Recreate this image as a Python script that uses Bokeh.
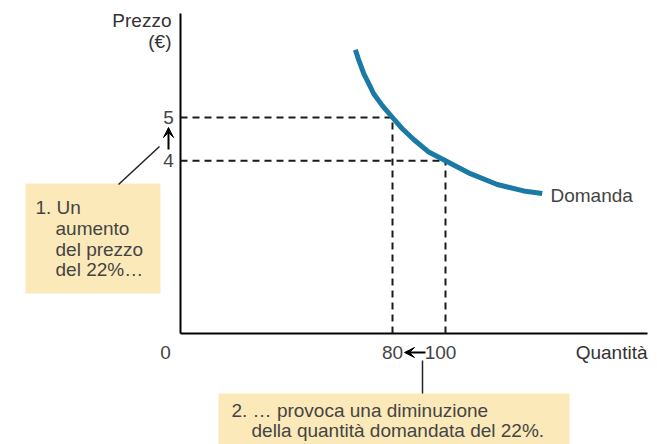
from bokeh.plotting import figure
from bokeh.models import Range1d, Arrow, VeeHead
from bokeh.core.properties import value
from bokeh.embed import file_html
from bokeh.resources import INLINE

# ---- data ----
price_vals = [5, 4]          # prices (€)
qty_vals = [80, 100]         # quantities demanded
demand_q = [66.0, 67.3, 69.2, 71.1, 72.9, 76.1, 80.0, 83.7, 88.0, 93.7,
            100.0, 109.4, 119.5, 129.5, 136.5]
demand_p = [6.57, 6.32, 6.01, 5.78, 5.55, 5.28, 5.00, 4.74, 4.49, 4.20,
            4.00, 3.70, 3.45, 3.30, 3.24]
x_axis_label = "Quantità"
y_axis_label = ["Prezzo", "(€)"]
curve_label = "Domanda"
note1 = ["1. Un", "aumento", "del prezzo", "del 22%…"]
note2 = ["2. … provoca una diminuzione", "della quantità domandata del 22%."]

# ---- layout helpers (screen px -> data) ----
W, H = 657, 444
OX, OY = 180, 333          # pixel position of origin
SX, SY = 2.65, 43.2        # px per data unit


def X(sx):
    return (sx - OX) / SX


def Y(sy):
    return (OY - sy) / SY


p = figure(width=W, height=H, output_backend="svg", toolbar_location=None,
           x_range=Range1d(X(0), X(W)), y_range=Range1d(Y(H), Y(0)),
           min_border=0, outline_line_color=None)
p.axis.visible = False
p.grid.visible = False
p.background_fill_color = "white"

FONT = value("Liberation Sans")
TXT = "#444444"
FS = "19px"

# axes lines
p.segment(x0=[0, 0], y0=[0, 0], x1=[0, X(647)], y1=[Y(13), 0],
          line_color="black", line_width=2)

# dashed guides
p.segment(x0=[0] * len(qty_vals), y0=price_vals, x1=qty_vals, y1=price_vals,
          line_color="#1a1a1a", line_width=2, line_dash="7 5")
p.segment(x0=qty_vals, y0=[0] * len(qty_vals), x1=qty_vals, y1=price_vals,
          line_color="#1a1a1a", line_width=2, line_dash="7 5")

# demand curve
p.line(demand_q, demand_p, line_color="#1a7aa5", line_width=5,
       line_join="round")
p.text(x=[X(550)], y=[Y(195)], text=[curve_label], text_font=FONT,
       text_font_size=FS, text_color=TXT, text_baseline="middle",
       text_align="left")

# y tick labels
p.text(x=[X(168)] * len(price_vals), y=price_vals, text=[str(v) for v in price_vals],
       text_font=FONT, text_font_size=FS, text_color=TXT,
       text_baseline="middle", text_align="center")
# y axis title
p.text(x=[X(171), X(171)], y=[Y(20), Y(41)], text=y_axis_label, text_font=FONT,
       text_font_size=FS, text_color="#333333", text_baseline="middle",
       text_align="right")
# origin
p.text(x=[X(165)], y=[Y(352)], text=["0"], text_font=FONT, text_font_size=FS,
       text_color=TXT, text_baseline="middle", text_align="center")
# x tick labels
p.text(x=[qty_vals[0]], y=[Y(352)], text=[str(qty_vals[0])], text_font=FONT,
       text_font_size=FS, text_color=TXT, text_baseline="middle",
       text_align="center")
p.text(x=[X(440)], y=[Y(352)], text=[str(qty_vals[1])], text_font=FONT,
       text_font_size=FS, text_color=TXT, text_baseline="middle",
       text_align="center")
p.text(x=[X(647)], y=[Y(352)], text=[x_axis_label], text_font=FONT,
       text_font_size=FS, text_color="#333333", text_baseline="middle",
       text_align="right")

# arrows
p.add_layout(Arrow(end=VeeHead(size=10, fill_color="black", line_color="black"),
                   x_start=X(168), y_start=Y(149), x_end=X(168), y_end=Y(127),
                   line_color="black", line_width=2))
p.add_layout(Arrow(end=VeeHead(size=10, fill_color="black", line_color="black"),
                   x_start=X(425), y_start=Y(352), x_end=X(404), y_end=Y(352),
                   line_color="black", line_width=2))

# note boxes
BOX = "#fce9b9"
p.quad(left=[X(25), X(218)], right=[X(160), X(569)],
       top=[Y(183), Y(393)], bottom=[Y(293), Y(450)],
       fill_color=BOX, line_color=None)
# pointer lines
p.segment(x0=[X(118), X(422)], y0=[Y(184), Y(360)],
          x1=[X(159), X(422)], y1=[Y(146), Y(393)],
          line_color="#222222", line_width=1.5)

# note 1 text
p.text(x=[X(35)], y=[Y(207)], text=[note1[0]], text_font=FONT,
       text_font_size=FS, text_color=TXT, text_baseline="middle",
       text_align="left")
p.text(x=[X(55)] * 3, y=[Y(228), Y(248.5), Y(269)], text=note1[1:],
       text_font=FONT, text_font_size=FS, text_color=TXT,
       text_baseline="middle", text_align="left")
# note 2 text
p.text(x=[X(231), X(251)], y=[Y(410), Y(430)], text=note2, text_font=FONT,
       text_font_size=FS, text_color=TXT, text_baseline="middle",
       text_align="left")

open("out.html", "w").write(file_html(p, INLINE))
